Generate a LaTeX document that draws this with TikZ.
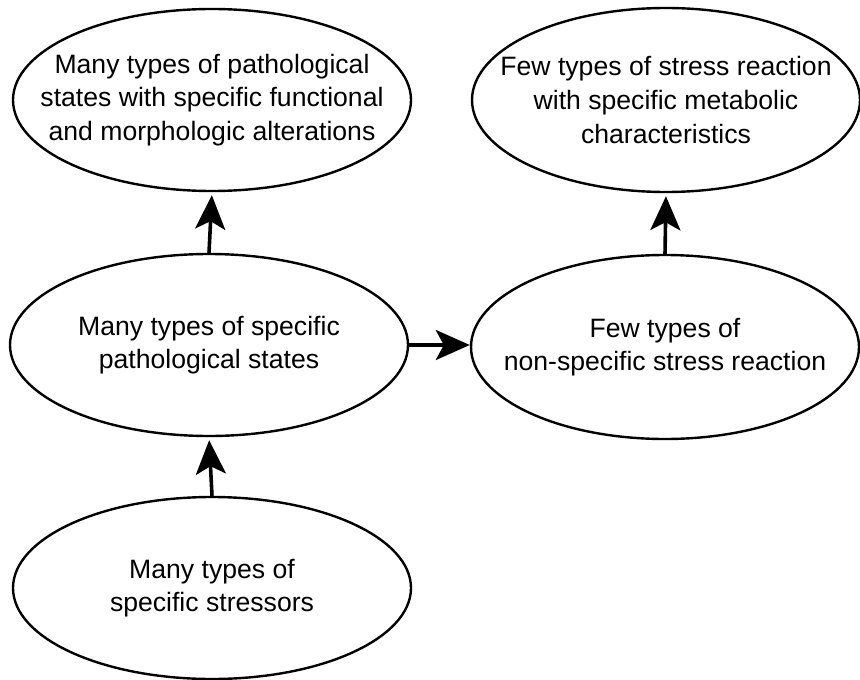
\documentclass[tikz,border=0pt]{standalone}
\usepackage{fontspec}
\setmainfont{Liberation Sans}
\usetikzlibrary{shapes.geometric, arrows.meta}

\begin{document}
\begin{tikzpicture}[x=0.5pt, y=-0.5pt,
            state/.style={draw, ellipse, line width=1.2pt, inner xsep=-25pt, inner ysep=0pt, align=center,
                minimum width=199pt, minimum height=91pt,
                font=\fontsize{13.3}{16.8}\selectfont},
            narrow/.style={minimum width=194pt, minimum height=92pt},
            link/.style={line width=1.8pt, -{Stealth[length=17pt, width=15pt, inset=4pt]}, shorten >=1.5pt}]
            \useasboundingbox (0,0) rectangle (860,679);
            % left column
            \node[state] (pathalt) at (212,100) {Many types of pathological\\states with specific functional\\and morphologic alterations};
            \node[state] (pathspec) at (209,345) {Many types of specific\\pathological states};
            \node[state] (stressors) at (212,588) {Many types of\\specific stressors};
            % right column
            \node[state, narrow] (metab) at (666,100) {Few types of stress reaction\\with specific metabolic\\characteristics};
            \node[state, narrow] (nonspec) at (665,347) {Few types of\\non-specific stress reaction};
            \foreach \a/\b in {stressors/pathspec, pathspec/pathalt, nonspec/metab}{
                \draw[link] (\a.north) -- (\b.south);
            }
            \draw[link, shorten >=0pt] (pathspec.east) -- (pathspec.east -| nonspec.west);
        \end{tikzpicture}
\end{document}
